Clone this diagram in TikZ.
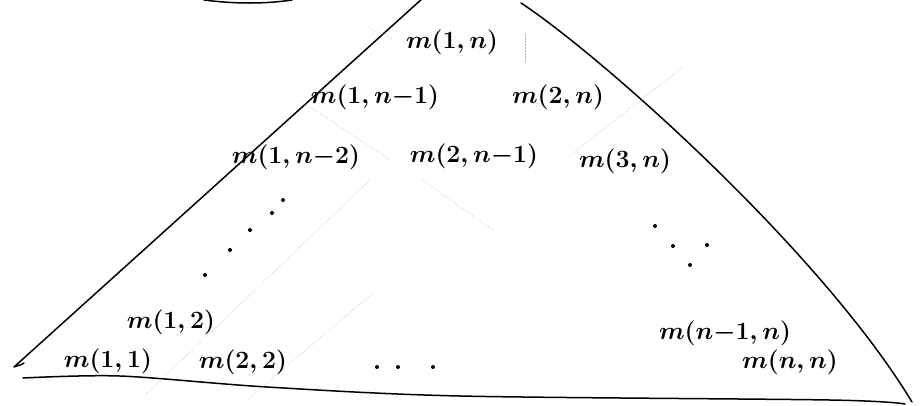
\documentclass[tikz,border=0pt]{standalone}
\usepackage{tikz}

\tikzset{
    entry/.style={font=\fontsize{28}{30}\selectfont\boldmath, inner sep=0pt},
    outline/.style={line width=1.5pt, line cap=round, line join=round},
    guide/.style={gray!55, densely dotted, line width=0.5pt},
    speck/.style={fill=black}
}

\begin{document}
\begin{tikzpicture}[x=1pt, y=-1pt]
    \useasboundingbox (0,0) rectangle (920,405);

    % Outline of the triangle
    \draw[outline] (423,-2) -- (14,367) .. controls (18,365) and (20,366) .. (24,363);
    \draw[outline] (521,3) .. controls (600,55) and (820,250) .. (912,402);
    \draw[outline] plot[smooth, tension=0.5] coordinates
        {(23,378) (120,376) (267,387) (460,396) (830,400) (905,404)};
    \draw[outline] (204,0) .. controls (235,4) and (265,4) .. (292,0);

    % Faint diagonals
    \draw[guide] (143,397) -- (370,180);
    \draw[guide] (247,400) -- (373,293);
    \draw[guide] (682,68) -- (568,157);
    \draw[guide] (422,180) -- (493,230);
    \draw[guide] (300,100) -- (390,160);
    \draw[guide] (367,27) -- (392,39);
    \draw[guide] (525,33) -- (525,62);

    % Entries
    \node[entry] (m1n)   at (452,42)  {$m(1,n)$};
    \node[entry] (m1n1)  at (375,97)  {$m(1,n{-}1)$};
    \node[entry] (m2n)   at (558,97)  {$m(2,n)$};
    \node[entry] (m1n2)  at (296,157) {$m(1,n{-}2)$};
    \node[entry] (m2n1)  at (474,156) {$m(2,n{-}1)$};
    \node[entry] (m3n)   at (625,161) {$m(3,n)$};
    \node[entry] (m12)   at (171,322) {$m(1,2)$};
    \node[entry] (m11)   at (108,361) {$m(1,1)$};
    \node[entry] (m22)   at (243,362) {$m(2,2)$};
    \node[entry] (mnn1)  at (725,333) {$m(n{-}1,n)$};
    \node[entry] (mnn)   at (790,362) {$m(n,n)$};

    % Dots
    \foreach \p in {(283,200),(272,213),(250,230),(230,250),(205,275),
                    (655,226),(673,246),(690,265),(707,245),
                    (377,367),(398,367),(433,367)}
        \fill[speck] \p circle (2pt);
\end{tikzpicture}
\end{document}
